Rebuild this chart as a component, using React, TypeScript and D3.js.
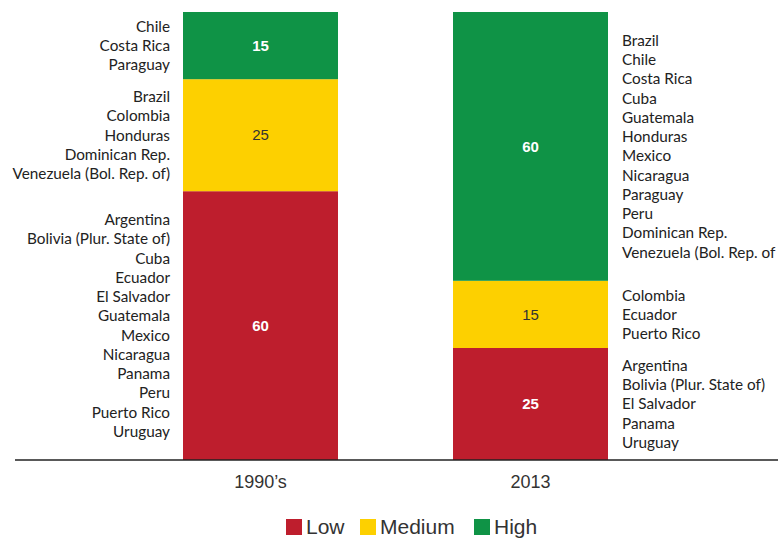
import { useEffect, useRef } from 'react';
import * as d3 from 'd3';

const categories = ['1990\u2019s', '2013'];
const levels = ['Low', 'Medium', 'High'];
const lowValues = [60, 25];
const mediumValues = [25, 15];
const highValues = [15, 60];

const countries1990 = {
  Low: ['Argentina', 'Bolivia (Plur. State of)', 'Cuba', 'Ecuador', 'El Salvador', 'Guatemala', 'Mexico', 'Nicaragua', 'Panama', 'Peru', 'Puerto Rico', 'Uruguay'],
  Medium: ['Brazil', 'Colombia', 'Honduras', 'Dominican Rep.', 'Venezuela (Bol. Rep. of)'],
  High: ['Chile', 'Costa Rica', 'Paraguay'],
};
const countries2013 = {
  Low: ['Argentina', 'Bolivia (Plur. State of)', 'El Salvador', 'Panama', 'Uruguay'],
  Medium: ['Colombia', 'Ecuador', 'Puerto Rico'],
  High: ['Brazil', 'Chile', 'Costa Rica', 'Cuba', 'Guatemala', 'Honduras', 'Mexico', 'Nicaragua', 'Paraguay', 'Peru', 'Dominican Rep.', 'Venezuela (Bol. Rep. of'],
};

const colors: Record<string, string> = { Low: '#BE1E2D', Medium: '#FDD000', High: '#0F9346' };
const valueColors: Record<string, string> = { Low: '#ffffff', Medium: '#333333', High: '#ffffff' };

function App() {
  const svgRef = useRef<SVGSVGElement | null>(null);
  const width = 778;
  const height = 538;

  useEffect(() => {
    const svg = d3.select(svgRef.current);
    svg.selectAll('*').remove();

    const table = categories.map((c, i) => ({
      category: c,
      Low: lowValues[i],
      Medium: mediumValues[i],
      High: highValues[i],
    }));
    const stacked = d3.stack<any>().keys(levels)(table);

    const x = d3.scaleBand().domain(categories).range([183, 608]).paddingInner(0.426).paddingOuter(0);
    const y = d3.scaleLinear().domain([0, 100]).range([460, 12]);
    const lineH = 19.25;
    const labelFont = 'Lato, "Open Sans", sans-serif';
    const numFont = '"Liberation Sans", Arial, sans-serif';

    stacked.forEach((layer) => {
      const key = layer.key;
      svg
        .append('g')
        .selectAll('rect')
        .data(layer)
        .enter()
        .append('rect')
        .attr('x', (d) => x(d.data.category) as number)
        .attr('y', (d) => y(d[1]))
        .attr('width', x.bandwidth())
        .attr('height', (d) => y(d[0]) - y(d[1]))
        .attr('fill', colors[key]);

      svg
        .append('g')
        .selectAll('text')
        .data(layer)
        .enter()
        .append('text')
        .attr('x', (d) => (x(d.data.category) as number) + x.bandwidth() / 2)
        .attr('y', (d) => (y(d[0]) + y(d[1])) / 2)
        .attr('dy', '0.35em')
        .attr('text-anchor', 'middle')
        .attr('font-family', numFont)
        .attr('font-size', 15)
        .attr('font-weight', key === 'Medium' ? 'normal' : 'bold')
        .attr('fill', valueColors[key])
        .text((d) => d[1] - d[0]);

      // country lists beside each bar, centred on the segment
      const sides = [
        { i: 0, names: (countries1990 as any)[key] as string[], xPos: (x(categories[0]) as number) - 13, anchor: 'end' },
        { i: 1, names: (countries2013 as any)[key] as string[], xPos: (x(categories[1]) as number) + x.bandwidth() + 14, anchor: 'start' },
      ];
      sides.forEach((s) => {
        const d = layer[s.i];
        const mid = (y(d[0]) + y(d[1])) / 2;
        const top = mid - ((s.names.length - 1) * lineH) / 2;
        svg
          .append('g')
          .selectAll('text')
          .data(s.names)
          .enter()
          .append('text')
          .attr('x', s.xPos)
          .attr('y', (_, j) => top + j * lineH)
          .attr('dy', '0.35em')
          .attr('text-anchor', s.anchor)
          .attr('font-family', labelFont)
          .attr('font-size', 15.3)
          .attr('fill', '#222')
          .text((n) => n);
      });
    });

    // baseline
    svg
      .append('line')
      .attr('x1', 15)
      .attr('x2', width)
      .attr('y1', y(0))
      .attr('y2', y(0))
      .attr('stroke', '#222')
      .attr('stroke-width', 1.5);

    svg
      .append('g')
      .selectAll('text')
      .data(categories)
      .enter()
      .append('text')
      .attr('x', (d) => (x(d) as number) + x.bandwidth() / 2)
      .attr('y', 482)
      .attr('dy', '0.35em')
      .attr('text-anchor', 'middle')
      .attr('font-family', numFont)
      .attr('font-size', 18)
      .attr('fill', '#333')
      .text((d) => d);

    // legend
    const legendX = [286, 360, 474];
    const legend = svg
      .append('g')
      .selectAll('g')
      .data(levels)
      .enter()
      .append('g')
      .attr('transform', (_, i) => `translate(${legendX[i]},519)`);
    legend.append('rect').attr('width', 16).attr('height', 16).attr('fill', (d) => colors[d]);
    legend
      .append('text')
      .attr('x', 20)
      .attr('y', 8)
      .attr('dy', '0.35em')
      .attr('font-family', numFont)
      .attr('font-size', 21)
      .attr('fill', '#333')
      .text((d) => d);
  }, []);

  return <svg ref={svgRef} width={width} height={height} style={{ position: 'absolute', left: 0, top: 0 }} />;
}

export default App;
